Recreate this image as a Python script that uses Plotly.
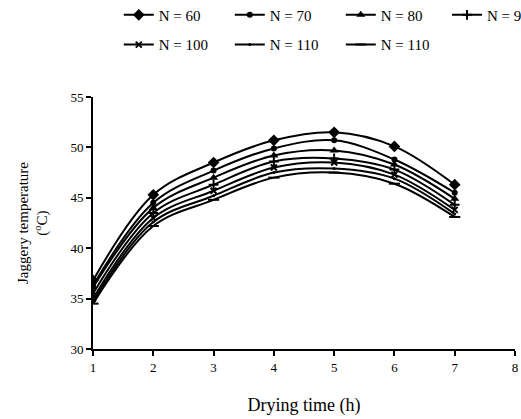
import plotly.graph_objects as go

hours = [1, 2, 3, 4, 5, 6, 7]

n60 = [36.8, 45.3, 48.5, 50.7, 51.5, 50.1, 46.3]
n70 = [36.3, 44.5, 47.7, 49.9, 50.7, 48.8, 45.5]
n80 = [36.1, 44.0, 47.0, 49.2, 49.7, 48.3, 44.9]
n90 = [35.5, 43.5, 46.3, 48.6, 48.9, 47.8, 44.3]
n100 = [35.0, 43.0, 45.7, 48.0, 48.5, 47.3, 43.8]
n110 = [34.7, 42.6, 45.2, 47.5, 47.9, 46.9, 43.4]
n110b = [34.5, 42.2, 44.8, 47.0, 47.5, 46.4, 43.1]

names = ["N = 60", "N = 70", "N = 80", "N = 90", "N = 100", "N = 110", "N = 110"]
series = [n60, n70, n80, n90, n100, n110, n110b]
symbols = ["diamond", "circle", "triangle-up", "cross-thin", "x-thin", "circle", "line-ew"]
sizes = [9, 6, 8, 7, 6, 3, 8]
legends = ["legend", "legend", "legend", "legend3", "legend2", "legend2", "legend2"]

font = "Liberation Serif"

fig = go.Figure()
for name, ys, sym, sz, lg in zip(names, series, symbols, sizes, legends):
    fig.add_trace(
        go.Scatter(
            x=hours,
            y=ys,
            name=name,
            mode="lines+markers",
            line=dict(color="black", width=2, shape="spline", smoothing=1),
            marker=dict(symbol=sym, size=sz, color="black",
                        line=dict(color="black", width=2 if "thin" in sym or sym == "line-ew" else 0)),
            legend=lg,
        )
    )

legend_style = dict(orientation="h", xref="container", yref="container",
                    xanchor="left", yanchor="middle", entrywidth=66,
                    font=dict(family=font, size=15), bgcolor="rgba(0,0,0,0)")

fig.update_layout(
    width=521,
    height=419,
    margin=dict(l=93, r=6, t=97, b=70, autoexpand=False),
    paper_bgcolor="white",
    plot_bgcolor="white",
    font=dict(family=font, size=13, color="black"),
    legend=dict(legend_style, x=0.228, y=0.964),
    legend3=dict(legend_style, x=0.858, y=0.964),
    legend2=dict(legend_style, x=0.228, y=0.893),
)

fig.update_xaxes(
    range=[1, 8.0001], dtick=1, showgrid=False, zeroline=False, automargin=False,
    showline=True, linecolor="black", linewidth=2,
    ticks="outside", ticklen=5, tickcolor="black", tickwidth=2,
    title=dict(text="Drying time (h)", font=dict(family=font, size=18), standoff=25),
)
fig.update_yaxes(
    range=[30, 55.0001], dtick=5, showgrid=False, zeroline=False, automargin=False,
    showline=True, linecolor="black", linewidth=2,
    ticks="outside", ticklen=5, tickcolor="black", tickwidth=2,
    title=dict(text="Jaggery temperature<br>(<sup>o</sup>C)", font=dict(family=font, size=15), standoff=19),
)

# the page body has a default 8px margin; drop it so the figure fills the window
fig.write_html("out.html", config={"displayModeBar": False},
               post_script="document.body.style.margin='0';")
